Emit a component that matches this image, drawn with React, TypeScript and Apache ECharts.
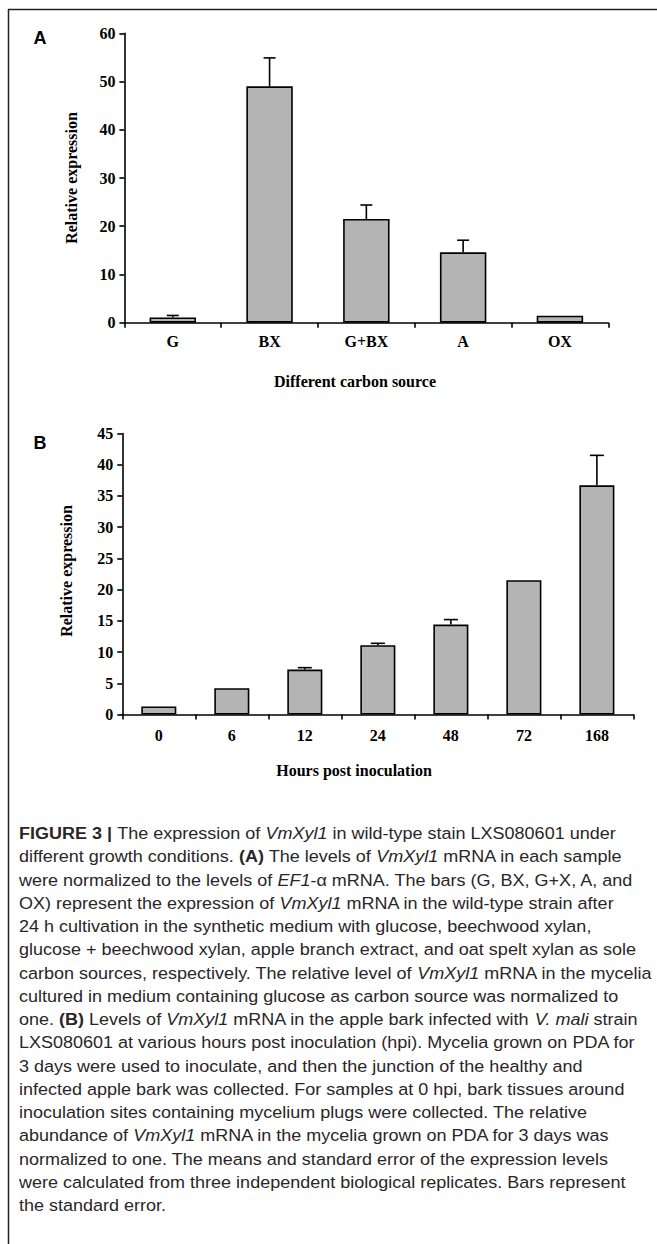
import React, { useEffect, useRef } from "react";
import * as echarts from "echarts";

const catsA = ["G", "BX", "G+BX", "A", "OX"];
const valsA = [1.1, 49.0, 21.5, 14.6, 1.45];
const errA = [0.4, 5.9, 2.9, 2.5, 0];

const catsB = ["0", "6", "12", "24", "48", "72", "168"];
const valsB = [1.3, 4.2, 7.2, 11.1, 14.4, 21.5, 36.7];
const errB = [0, 0, 0.3, 0.3, 0.8, 0, 4.8];

const captionLines = [
  "{b|FIGURE 3 | }{n|The expression of }{i|VmXyl1}{n| in wild-type stain LXS080601 under}",
  "{n|different growth conditions. }{b|(A)}{n| The levels of }{i|VmXyl1}{n| mRNA in each sample}",
  "{n|were normalized to the levels of }{i|EF1}{n|-α mRNA. The bars (G, BX, G+X, A, and}",
  "{n|OX) represent the expression of }{i|VmXyl1}{n| mRNA in the wild-type strain after}",
  "{n|24 h cultivation in the synthetic medium with glucose, beechwood xylan,}",
  "{n|glucose + beechwood xylan, apple branch extract, and oat spelt xylan as sole}",
  "{n|carbon sources, respectively. The relative level of }{i|VmXyl1}{n| mRNA in the mycelia}",
  "{n|cultured in medium containing glucose as carbon source was normalized to}",
  "{n|one. }{b|(B)}{n| Levels of }{i|VmXyl1}{n| mRNA in the apple bark infected with }{i|V. mali}{n| strain}",
  "{n|LXS080601 at various hours post inoculation (hpi). Mycelia grown on PDA for}",
  "{n|3 days were used to inoculate, and then the junction of the healthy and}",
  "{n|infected apple bark was collected. For samples at 0 hpi, bark tissues around}",
  "{n|inoculation sites containing mycelium plugs were collected. The relative}",
  "{n|abundance of }{i|VmXyl1}{n| mRNA in the mycelia grown on PDA for 3 days was}",
  "{n|normalized to one. The means and standard error of the expression levels}",
  "{n|were calculated from three independent biological replicates. Bars represent}",
  "{n|the standard error.}",
];

const SERIF = "'Liberation Serif', 'Times New Roman', serif";
const SANS = "'Liberation Sans', Arial, sans-serif";

function errData(vals: number[], errs: number[]) {
  return vals.map((v, i) => [i, v, v + errs[i]]);
}

function makeErrSeries(xi: number, vals: number[], errs: number[], capW: number) {
  return {
    type: "custom",
    xAxisIndex: xi,
    yAxisIndex: xi,
    z: 5,
    data: errData(vals, errs),
    renderItem: (params: any, api: any) => {
      const i = api.value(0);
      const lo = api.coord([i, api.value(1)]);
      const hi = api.coord([i, api.value(2)]);
      if (Math.abs(lo[1] - hi[1]) < 0.5) return { type: "group", children: [] };
      const st = { stroke: "#000", lineWidth: 1.6 };
      return {
        type: "group",
        children: [
          { type: "line", shape: { x1: lo[0], y1: lo[1], x2: hi[0], y2: hi[1] }, style: st },
          { type: "line", shape: { x1: hi[0] - capW / 2, y1: hi[1], x2: hi[0] + capW / 2, y2: hi[1] }, style: st },
        ],
      };
    },
  };
}

function axisX(idx: number, cats: string[], margin: number) {
  return {
    type: "category",
    gridIndex: idx,
    data: cats,
    axisLine: { lineStyle: { color: "#000", width: 1.6 } },
    axisTick: { show: true, length: 5, inside: false, lineStyle: { color: "#000", width: 1.6 } },
    axisLabel: { color: "#000", fontFamily: SERIF, fontWeight: "bold", fontSize: 16, margin },
    splitLine: { show: false },
  };
}

function axisY(idx: number, max: number, interval: number) {
  return {
    type: "value",
    gridIndex: idx,
    min: 0,
    max,
    interval,
    axisLine: { show: true, lineStyle: { color: "#000", width: 1.6 } },
    axisTick: { show: true, length: 5, lineStyle: { color: "#000", width: 1.6 } },
    axisLabel: { color: "#000", fontFamily: SERIF, fontWeight: "bold", fontSize: 16, margin: 9 },
    splitLine: { show: false },
  };
}

export default function App() {
  const ref = useRef<HTMLDivElement>(null);
  useEffect(() => {
    if (!ref.current) return;
    const chart = echarts.init(ref.current, null, { renderer: "svg" });
    const barStyle = { color: "#b4b4b4", borderColor: "#000", borderWidth: 1.6 };
    const fill = "#2a2627";
    const captionGraphics = captionLines.map((t, k) => ({
      type: "text",
      x: 19,
      y: 833.3 + k * 23.25,
      scaleX: 1.06,
      style: {
        text: t,
        verticalAlign: "middle",
        rich: {
          n: { fontFamily: SANS, fontSize: 17, fill },
          i: { fontFamily: SANS, fontSize: 17, fontStyle: "italic", fill },
          b: { fontFamily: SANS, fontSize: 17, fontWeight: "bold", fill },
        },
      },
    }));
    chart.setOption({
      animation: false,
      backgroundColor: "#fff",
      grid: [
        { left: 124.4, top: 33.3, width: 608.3 - 124.4, height: 322.7 - 33.3 },
        { left: 122.3, top: 433.5, width: 633.4 - 122.3, height: 714.5 - 433.5 },
      ],
      xAxis: [axisX(0, catsA, 11), axisX(1, catsB, 13)],
      yAxis: [axisY(0, 60, 10), axisY(1, 45, 5)],
      series: [
        { type: "bar", xAxisIndex: 0, yAxisIndex: 0, data: valsA, barWidth: "48%", itemStyle: barStyle },
        makeErrSeries(0, valsA, errA, 12),
        { type: "bar", xAxisIndex: 1, yAxisIndex: 1, data: valsB, barWidth: "48%", itemStyle: barStyle },
        makeErrSeries(1, valsB, errB, 14),
      ],
      graphic: [
        { type: "line", shape: { x1: 8, y1: 9.5, x2: 657, y2: 9.5 }, style: { stroke: "#222", lineWidth: 1.5 } },
        { type: "line", shape: { x1: 8.5, y1: 9, x2: 8.5, y2: 1244 }, style: { stroke: "#222", lineWidth: 1.5 } },
        { type: "text", x: 40, y: 38, style: { text: "A", font: "bold 18px " + SANS, fill: "#000", align: "center", verticalAlign: "middle" } },
        { type: "text", x: 40, y: 443, style: { text: "B", font: "bold 18px " + SANS, fill: "#000", align: "center", verticalAlign: "middle" } },
        { type: "text", x: 71, y: 178, rotation: Math.PI / 2, style: { text: "Relative expression", font: "bold 16px " + SERIF, fill: "#000", align: "center", verticalAlign: "middle" } },
        { type: "text", x: 66, y: 571, rotation: Math.PI / 2, style: { text: "Relative expression", font: "bold 16px " + SERIF, fill: "#000", align: "center", verticalAlign: "middle" } },
        { type: "text", x: 355, y: 381.7, style: { text: "Different carbon source", font: "bold 16px " + SERIF, fill: "#000", align: "center", verticalAlign: "middle" } },
        { type: "text", x: 354, y: 770, style: { text: "Hours post inoculation", font: "bold 16px " + SERIF, fill: "#000", align: "center", verticalAlign: "middle" } },
        ...captionGraphics,
      ],
    });
    return () => chart.dispose();
  }, []);
  return (
    <div
      ref={ref}
      style={{ position: "absolute", left: 0, top: 0, width: 657, height: 1244 }}
    />
  );
}
